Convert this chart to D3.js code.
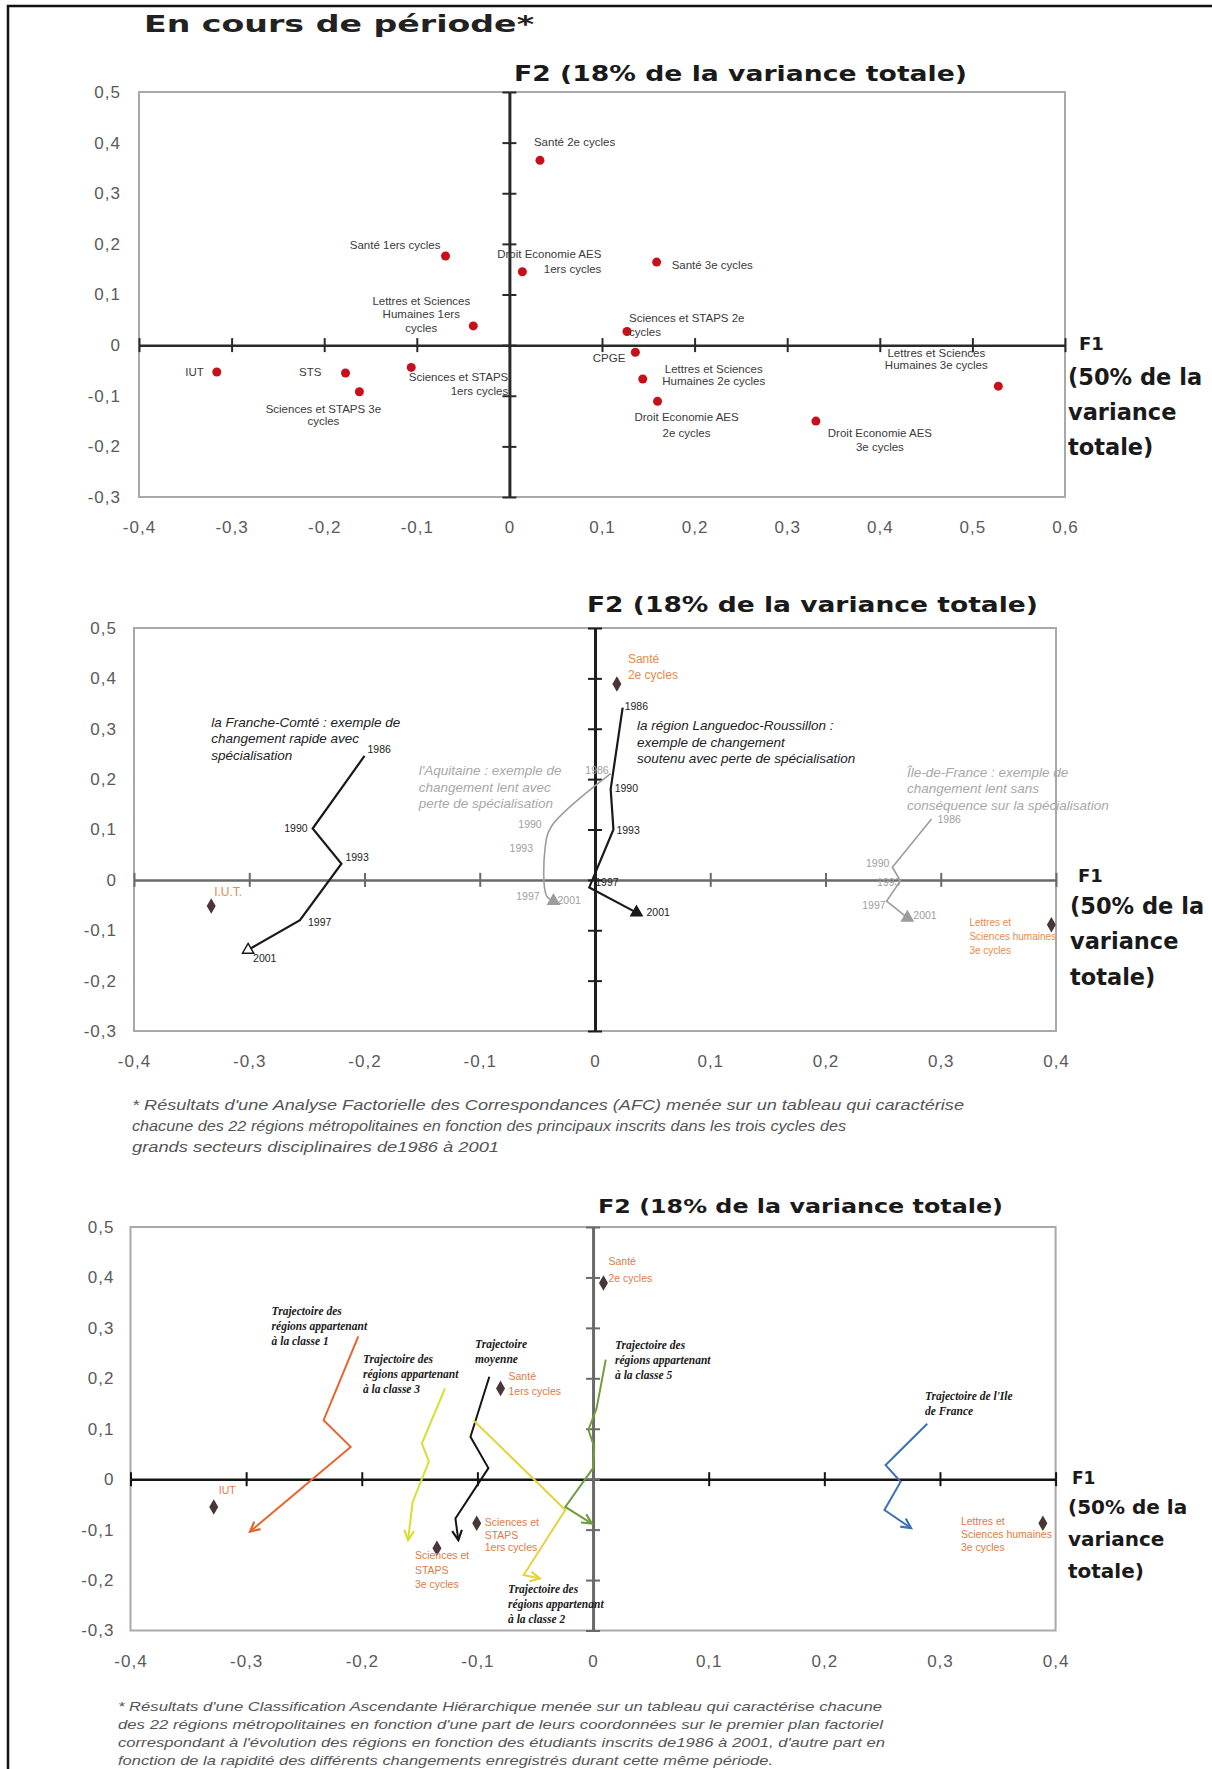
<!DOCTYPE html>
<html>
<head>
<meta charset="utf-8">
<script src="https://cdn.jsdelivr.net/npm/d3@7"></script>
<style>
  body { margin: 0; background: #fff; }
</style>
</head>
<body>
<svg id="fig"></svg>
<script>
// ---------- panel 1 : positions des secteurs (AFC) ----------
const afcNames = [
  "Santé 2e cycles", "Santé 1ers cycles", "Droit Economie AES 1ers cycles",
  "Lettres et Sciences Humaines 1ers cycles", "IUT", "STS",
  "Sciences et STAPS 3e cycles", "Sciences et STAPS 1ers cycles", "Santé 3e cycles",
  "Sciences et STAPS 2e cycles", "CPGE", "Lettres et Sciences Humaines 2e cycles",
  "Droit Economie AES 2e cycles", "Droit Economie AES 3e cycles",
  "Lettres et Sciences Humaines 3e cycles"
];
const afcF1 = [0.033, -0.069, 0.014, -0.039, -0.316, -0.177, -0.162, -0.106, 0.159, 0.127, 0.136, 0.144, 0.160, 0.331, 0.528];
const afcF2 = [0.365, 0.176, 0.145, 0.038, -0.053, -0.055, -0.092, -0.044, 0.164, 0.027, -0.014, -0.067, -0.111, -0.150, -0.081];

// ---------- panel 2 : trajectoires de quatre régions ----------
const years = [1986, 1990, 1993, 1997, 2001];
const regionNames = ["Franche-Comté", "Aquitaine", "Languedoc-Roussillon", "Île-de-France"];
const francheF1 = [-0.200, -0.245, -0.220, -0.256, -0.301];
const francheF2 = [0.246, 0.102, 0.032, -0.080, -0.139];
const aquitaineF1 = [0.0136, -0.0376, -0.0434, -0.042, -0.036];
const aquitaineF2 = [0.211, 0.107, 0.061, -0.032, -0.042];
const languedocF1 = [0.024, 0.0136, 0.016, -0.005, 0.036];
const languedocF2 = [0.342, 0.180, 0.100, -0.015, -0.065];
const idfF1 = [0.292, 0.258, 0.265, 0.253, 0.271];
const idfF2 = [0.121, 0.025, -0.002, -0.042, -0.075];

const refNames2 = ["I.U.T.", "Santé 2e cycles", "Lettres et Sciences humaines 3e cycles"];
const refF1_2 = [-0.333, 0.019, 0.396];
const refF2_2 = [-0.052, 0.389, -0.089];

// ---------- panel 3 : trajectoires des classes (CAH) ----------
const classNames = ["classe 1", "classe 3", "moyenne", "classe 2", "classe 5", "Ile de France"];
const classe1F1 = [-0.203, -0.233, -0.2096, -0.2967];
const classe1F2 = [0.283, 0.117, 0.064, -0.104];
const classe3F1 = [-0.128, -0.148, -0.142, -0.156, -0.160];
const classe3F2 = [0.180, 0.071, 0.035, -0.045, -0.121];
const moyenneF1 = [-0.0897, -0.106, -0.0905, -0.119, -0.1165];
const moyenneF2 = [0.203, 0.084, 0.022, -0.078, -0.121];
const classe2F1 = [-0.1035, -0.024, -0.060, -0.046];
const classe2F2 = [0.117, -0.061, -0.190, -0.197];
const classe5F1 = [0.011, 0.003, -0.004, 0.001, 0.000, -0.024, -0.001];
const classe5F2 = [0.237, 0.140, 0.098, 0.064, 0.022, -0.055, -0.088];
const idfClassF1 = [0.289, 0.253, 0.266, 0.252, 0.275];
const idfClassF2 = [0.110, 0.028, -0.005, -0.061, -0.097];

const refNames3 = ["IUT", "Santé 2e cycles", "Santé 1ers cycles", "Sciences et STAPS 1ers cycles",
  "Sciences et STAPS 3e cycles", "Lettres et Sciences humaines 3e cycles"];
const refF1_3 = [-0.328, 0.009, -0.080, -0.1006, -0.135, 0.389];
const refF2_3 = [-0.055, 0.389, 0.180, -0.0875, -0.137, -0.0875];

const yTicks = [-0.3, -0.2, -0.1, 0, 0.1, 0.2, 0.3, 0.4, 0.5];

// ---------- label placement (pixels, relative to the point) ----------
const afcLabelLayout = [
  { lines: ["Santé 2e cycles"], anchor: "start", dx: -6, dy: -14, lh: 13 },
  { lines: ["Santé 1ers cycles"], anchor: "end", dx: -5, dy: -7, lh: 13 },
  { lines: ["Droit Economie AES", "1ers cycles"], anchor: "end", dx: 79, dy: -14, lh: 15 },
  { lines: ["Lettres et Sciences", "Humaines 1ers", "cycles"], anchor: "middle", dx: -52, dy: -21, lh: 13.5 },
  { lines: ["IUT"], anchor: "end", dx: -13, dy: 4, lh: 13 },
  { lines: ["STS"], anchor: "end", dx: -24, dy: 3, lh: 13 },
  { lines: ["Sciences et STAPS 3e", "cycles"], anchor: "middle", dx: -36, dy: 21, lh: 12.5 },
  { lines: ["Sciences et STAPS", "1ers cycles"], anchor: "end", dx: 97, dy: 14, lh: 13.5 },
  { lines: ["Santé 3e cycles"], anchor: "start", dx: 15, dy: 7, lh: 13 },
  { lines: ["Sciences et STAPS 2e", "cycles"], anchor: "start", dx: 2, dy: -9, lh: 13.5 },
  { lines: ["CPGE"], anchor: "end", dx: -10, dy: 10, lh: 13 },
  { lines: ["Lettres et Sciences", "Humaines 2e cycles"], anchor: "middle", dx: 71, dy: -6, lh: 12 },
  { lines: ["Droit Economie AES", "2e cycles"], anchor: "middle", dx: 29, dy: 20, lh: 15.5 },
  { lines: ["Droit Economie AES", "3e cycles"], anchor: "middle", dx: 64, dy: 16, lh: 13.8 },
  { lines: ["Lettres et Sciences", "Humaines 3e cycles"], anchor: "middle", dx: -62, dy: -29, lh: 12 }
];

const ref2Layout = [
  { lines: ["I.U.T."], dx: 3, dy: -10, lh: 14, size: 12 },
  { lines: ["Santé", "2e cycles"], dx: 11, dy: -21, lh: 16, size: 12 },
  { lines: ["Lettres et", "Sciences humaines", "3e cycles"], dx: -82, dy: 1, lh: 14, size: 10 }
];
const ref3Layout = [
  { lines: ["IUT"], dx: 5, dy: -13, lh: 14 },
  { lines: ["Santé", "2e cycles"], dx: 5, dy: -18, lh: 17 },
  { lines: ["Santé", "1ers cycles"], dx: 8, dy: -8, lh: 15 },
  { lines: ["Sciences et", "STAPS", "1ers cycles"], dx: 8, dy: 3, lh: 12.5 },
  { lines: ["Sciences et", "STAPS", "3e cycles"], dx: -22, dy: 11, lh: 14.5 },
  { lines: ["Lettres et", "Sciences humaines", "3e cycles"], dx: -82, dy: 2, lh: 13 }
];

// year labels: [dx, dy, anchor]
const yearLayout = [
  [[3, -3, "start"], [-5, 4, "end"], [4, -3, "start"], [8, 6, "start"], [5, 12, "start"]],
  [[-2, 0, "end"], [-10, 2, "end"], [-12, 3, "end"], [-7, 4, "end"], [4, 3, "start"]],
  [[2, 2, "start"], [4, 3, "start"], [3, 4, "start"], [6, -1, "start"], [10, 3, "start"]],
  [[6, 4, "start"], [-3, 0, "end"], [0, 5, "end"], [-1, 8, "end"], [6, 1, "start"]]
];

// annotations, anchored in data units
const notes2 = [
  { at: [-0.333, 0.304], color: "#222", lines: ["la Franche-Comté : exemple de", "changement rapide avec", "spécialisation"] },
  { at: [-0.153, 0.208], color: "#a8a8a8", lines: ["l'Aquitaine : exemple de", "changement lent avec", "perte de spécialisation"] },
  { at: [0.0364, 0.2976], color: "#222", lines: ["la région Languedoc-Roussillon :", "exemple de changement", "soutenu avec perte de spécialisation"] },
  { at: [0.2707, 0.205], color: "#a8a8a8", lines: ["Île-de-France : exemple de", "changement lent sans", "conséquence sur la spécialisation"] }
];
const notes3 = [
  { at: [-0.278, 0.326], lines: ["Trajectoire des", "régions appartenant", "à la classe 1"] },
  { at: [-0.199, 0.231], lines: ["Trajectoire des", "régions appartenant", "à la classe 3"] },
  { at: [-0.102, 0.260], lines: ["Trajectoire", "moyenne"] },
  { at: [0.019, 0.258], lines: ["Trajectoire des", "régions appartenant", "à la classe 5"] },
  { at: [-0.0735, -0.226], lines: ["Trajectoire des", "régions appartenant", "à la classe 2"] },
  { at: [0.287, 0.157], lines: ["Trajectoire de l'Ile", "de France"] }
];

const foot1 = [
  "* Résultats d'une Analyse Factorielle des Correspondances (AFC) menée sur un tableau qui caractérise",
  "chacune des 22 régions métropolitaines en fonction des principaux inscrits dans les trois cycles des",
  "grands secteurs disciplinaires de1986 à 2001"
];
const foot2 = [
  "* Résultats d'une Classification Ascendante Hiérarchique menée sur un tableau qui caractérise chacune",
  "des 22 régions métropolitaines en fonction d'une part de leurs coordonnées sur le premier plan factoriel",
  "correspondant à l'évolution des régions en fonction des étudiants inscrits de1986 à 2001, d'autre part en",
  "fonction de la rapidité des différents changements enregistrés durant cette même période."
];

// ---------------------------------------------------------------
const W = 1212, H = 1769;
const SANS = "'Liberation Sans', Arial, sans-serif";
const BOLD = "'DejaVu Sans', sans-serif";
const SERIF = "'Liberation Serif', 'Times New Roman', serif";

const svg = d3.select("#fig").attr("width", W).attr("height", H);
svg.append("rect").attr("width", W).attr("height", H).attr("fill", "#fff");

// outer frame (top and left)
svg.append("path").attr("d", `M8,${H + 5}V6H${W + 5}`)
  .attr("fill", "none").attr("stroke", "#111").attr("stroke-width", 2.5);

svg.append("text").attr("x", 144).attr("y", 32)
  .attr("font-family", BOLD).attr("font-weight", "bold").attr("font-size", 23)
  .attr("fill", "#222").attr("textLength", 390).attr("lengthAdjust", "spacingAndGlyphs")
  .text("En cours de période*");

const fmt = d => d === 0 ? "0" : (d < 0 ? "-" : "") + Math.abs(d).toFixed(1).replace(".", ",");
const zip = (a, b) => a.map((v, i) => [v, b[i]]);

const defs = svg.append("defs");

function multiline(sel, lines, lh) {
  lines.forEach((t, i) => sel.append("tspan").attr("x", sel.attr("x")).attr("dy", i === 0 ? 0 : lh).text(t));
}

function makePanel(cfg) {
  const x = d3.scaleLinear().domain(cfg.xDomain).range([cfg.left, cfg.right]);
  const y = d3.scaleLinear().domain([-0.3, 0.5]).range([cfg.bottom, cfg.top]);
  const g = svg.append("g");
  const xTicks = d3.range(Math.round(cfg.xDomain[0] * 10), Math.round(cfg.xDomain[1] * 10) + 1).map(d => d / 10);

  g.append("rect")
    .attr("x", cfg.left).attr("y", cfg.top)
    .attr("width", cfg.right - cfg.left).attr("height", cfg.bottom - cfg.top)
    .attr("fill", "none").attr("stroke", "#a9a9a9").attr("stroke-width", 2);

  // tick labels
  const styleLabels = a => {
    a.select(".domain").remove();
    a.selectAll("text").attr("font-family", SANS).attr("font-size", 17)
      .attr("letter-spacing", 1).attr("fill", "#5a5a5a");
  };
  g.append("g").attr("transform", `translate(0,${cfg.bottom})`)
    .call(d3.axisBottom(x).tickValues(xTicks).tickFormat(fmt).tickSize(0).tickPadding(24))
    .call(styleLabels);
  g.append("g").attr("transform", `translate(${cfg.left},0)`)
    .call(d3.axisLeft(y).tickValues(yTicks).tickFormat(fmt).tickSize(0).tickPadding(cfg.yPad))
    .call(styleLabels);

  // crossing axes through the origin
  const axisStyle = (a, col, w) => {
    a.selectAll(".domain").attr("stroke", col).attr("stroke-width", w);
    a.selectAll(".tick line").attr("stroke", col).attr("stroke-width", 2);
  };
  g.append("g").attr("transform", `translate(0,${y(0)})`)
    .call(d3.axisBottom(x).tickValues(xTicks).tickFormat("").tickSize(7).tickSizeOuter(0))
    .call(a => axisStyle(a, cfg.xAxisColor, 2.5));
  g.append("g").attr("transform", `translate(0,${y(0)})`)
    .call(d3.axisTop(x).tickValues(xTicks).tickFormat("").tickSize(7).tickSizeOuter(0))
    .call(a => { a.select(".domain").remove(); axisStyle(a, cfg.xAxisColor, 2.5); });
  g.append("g").attr("transform", `translate(${x(0)},0)`)
    .call(d3.axisLeft(y).tickValues(yTicks).tickFormat("").tickSize(7).tickSizeOuter(0))
    .call(a => axisStyle(a, cfg.yAxisColor, 3));
  g.append("g").attr("transform", `translate(${x(0)},0)`)
    .call(d3.axisRight(y).tickValues(yTicks).tickFormat("").tickSize(7).tickSizeOuter(0))
    .call(a => { a.select(".domain").remove(); axisStyle(a, cfg.yAxisColor, 3); });

  // axis titles
  g.append("text").attr("x", cfg.f2.x).attr("y", cfg.f2.y)
    .attr("font-family", BOLD).attr("font-weight", "bold").attr("font-size", cfg.f2.size)
    .attr("fill", "#1a1a1a").attr("textLength", cfg.f2.w).attr("lengthAdjust", "spacingAndGlyphs")
    .text("F2 (18% de la variance totale)");
  g.append("text").attr("x", cfg.f1.x).attr("y", cfg.f1.y)
    .attr("font-family", BOLD).attr("font-weight", "bold").attr("font-size", cfg.f1.size)
    .attr("fill", "#1a1a1a").text("F1");
  ["(50% de la", "variance", "totale)"].forEach((t, i) => {
    g.append("text").attr("x", cfg.f1.lx).attr("y", cfg.f1.ly[i])
      .attr("font-family", BOLD).attr("font-weight", "bold").attr("font-size", cfg.f1.lsize)
      .attr("fill", "#1a1a1a").text(t);
  });
  return { g, x, y };
}

// ================= panel 1 =================
const p1 = makePanel({
  xDomain: [-0.4, 0.6], left: 139, right: 1065, top: 92, bottom: 497, yPad: 18,
  xAxisColor: "#2a2a2a", yAxisColor: "#2a2a2a",
  f2: { x: 514, y: 81, size: 22, w: 453 },
  f1: { x: 1079, y: 350, size: 18, lx: 1068, ly: [385, 420, 455], lsize: 22.5 }
});
const afc = afcNames.map((n, i) => ({ name: n, f1: afcF1[i], f2: afcF2[i], lay: afcLabelLayout[i] }));
p1.g.selectAll(".pt").data(afc).join("circle")
  .attr("cx", d => p1.x(d.f1)).attr("cy", d => p1.y(d.f2)).attr("r", 4.5)
  .attr("fill", "#c8101a");
p1.g.selectAll(".lbl").data(afc).join("text")
  .attr("x", d => p1.x(d.f1) + d.lay.dx).attr("y", d => p1.y(d.f2) + d.lay.dy)
  .attr("text-anchor", d => d.lay.anchor)
  .attr("font-family", SANS).attr("font-size", 11.5).attr("fill", "#3a3a3a")
  .each(function (d) { multiline(d3.select(this), d.lay.lines, d.lay.lh); });

// ================= panel 2 =================
const p2 = makePanel({
  xDomain: [-0.4, 0.4], left: 134, right: 1056, top: 628, bottom: 1031, yPad: 17,
  xAxisColor: "#6a6a6a", yAxisColor: "#1e1e1e",
  f2: { x: 587, y: 612, size: 22, w: 451 },
  f1: { x: 1078, y: 882, size: 18, lx: 1070, ly: [914, 949, 985], lsize: 22.5 }
});
const regions = [
  { f1: francheF1, f2: francheF2, color: "#1a1a1a", w: 2.2, curve: d3.curveLinear, open: true },
  { f1: aquitaineF1, f2: aquitaineF2, color: "#9c9c9c", w: 1.6, curve: d3.curveCatmullRom.alpha(0.5), open: false },
  { f1: languedocF1, f2: languedocF2, color: "#1a1a1a", w: 2.2, curve: d3.curveLinear, open: false },
  { f1: idfF1, f2: idfF2, color: "#9c9c9c", w: 1.6, curve: d3.curveLinear, open: false }
];
regions.forEach((r, ri) => {
  const pts = zip(r.f1, r.f2);
  p2.g.append("path").datum(pts)
    .attr("d", d3.line().x(d => p2.x(d[0])).y(d => p2.y(d[1])).curve(r.curve))
    .attr("fill", "none").attr("stroke", r.color).attr("stroke-width", r.w);
  const last = pts[pts.length - 1];
  p2.g.append("path")
    .attr("d", d3.symbol(d3.symbolTriangle).size(55)())
    .attr("transform", `translate(${p2.x(last[0])},${p2.y(last[1])})`)
    .attr("fill", r.open ? "#fff" : r.color).attr("stroke", r.color).attr("stroke-width", 1.5);
  p2.g.selectAll(null).data(years).join("text")
    .attr("x", (d, i) => p2.x(pts[i][0]) + yearLayout[ri][i][0])
    .attr("y", (d, i) => p2.y(pts[i][1]) + yearLayout[ri][i][1])
    .attr("text-anchor", (d, i) => yearLayout[ri][i][2])
    .attr("font-family", SANS).attr("font-size", 10.5).attr("fill", r.color === "#1a1a1a" ? "#222" : "#a0a0a0")
    .text(d => d);
});
notes2.forEach(n => {
  const t = p2.g.append("text").attr("x", p2.x(n.at[0])).attr("y", p2.y(n.at[1]))
    .attr("font-family", SANS).attr("font-style", "italic").attr("font-size", 13.5).attr("fill", n.color);
  multiline(t, n.lines, 16.7);
});
const ref2 = refNames2.map((n, i) => ({ name: n, f1: refF1_2[i], f2: refF2_2[i], lay: ref2Layout[i] }));
p2.g.selectAll(".ref").data(ref2).join("path")
  .attr("d", d3.symbol(d3.symbolDiamond).size(70)())
  .attr("transform", d => `translate(${p2.x(d.f1)},${p2.y(d.f2)})`)
  .attr("fill", "#4a3636");
p2.g.selectAll(".reflbl").data(ref2).join("text")
  .attr("x", d => p2.x(d.f1) + d.lay.dx).attr("y", d => p2.y(d.f2) + d.lay.dy)
  .attr("font-family", SANS).attr("font-size", d => d.lay.size).attr("fill", "#e58a4e")
  .each(function (d) { multiline(d3.select(this), d.lay.lines, d.lay.lh); });

foot1.forEach((t, i) => {
  svg.append("text").attr("x", 132).attr("y", 1110 + i * 21)
    .attr("font-family", SANS).attr("font-style", "italic").attr("font-size", 14).attr("fill", "#555")
    .attr("textLength", [832, 714, 367][i]).attr("lengthAdjust", "spacingAndGlyphs").text(t);
});

// ================= panel 3 =================
const p3 = makePanel({
  xDomain: [-0.4, 0.4], left: 130.5, right: 1055.6, top: 1227, bottom: 1630.5, yPad: 16,
  xAxisColor: "#141414", yAxisColor: "#6a6a6a",
  f2: { x: 598, y: 1213, size: 20, w: 405 },
  f1: { x: 1072, y: 1484, size: 17, lx: 1068, ly: [1514, 1546, 1578], lsize: 20 }
});
const classes = [
  { f1: classe1F1, f2: classe1F2, color: "#e8642c" },
  { f1: classe3F1, f2: classe3F2, color: "#d6e030" },
  { f1: moyenneF1, f2: moyenneF2, color: "#151515" },
  { f1: classe2F1, f2: classe2F2, color: "#e3d33c" },
  { f1: classe5F1, f2: classe5F2, color: "#6f9d3d" },
  { f1: idfClassF1, f2: idfClassF2, color: "#3d70b3" }
];
classes.forEach((c, i) => {
  defs.append("marker").attr("id", "arr" + i)
    .attr("viewBox", "0 0 12 12").attr("refX", 10).attr("refY", 6)
    .attr("markerWidth", 13).attr("markerHeight", 13)
    .attr("markerUnits", "userSpaceOnUse").attr("orient", "auto")
    .append("path").attr("d", "M1,1.5L10,6L1,10.5")
    .attr("fill", "none").attr("stroke", c.color).attr("stroke-width", 2);
  p3.g.append("path").datum(zip(c.f1, c.f2))
    .attr("d", d3.line().x(d => p3.x(d[0])).y(d => p3.y(d[1])))
    .attr("fill", "none").attr("stroke", c.color).attr("stroke-width", 2)
    .attr("stroke-linejoin", "miter").attr("marker-end", `url(#arr${i})`);
});
notes3.forEach(n => {
  const t = p3.g.append("text").attr("x", p3.x(n.at[0])).attr("y", p3.y(n.at[1]))
    .attr("font-family", SERIF).attr("font-style", "italic").attr("font-weight", "bold")
    .attr("font-size", 11.5).attr("fill", "#1a1a1a");
  multiline(t, n.lines, 15);
});
const ref3 = refNames3.map((n, i) => ({ name: n, f1: refF1_3[i], f2: refF2_3[i], lay: ref3Layout[i] }));
p3.g.selectAll(".ref").data(ref3).join("path")
  .attr("d", d3.symbol(d3.symbolDiamond).size(70)())
  .attr("transform", d => `translate(${p3.x(d.f1)},${p3.y(d.f2)})`)
  .attr("fill", "#4a3636");
p3.g.selectAll(".reflbl").data(ref3).join("text")
  .attr("x", d => p3.x(d.f1) + d.lay.dx).attr("y", d => p3.y(d.f2) + d.lay.dy)
  .attr("font-family", SANS).attr("font-size", 10.5).attr("fill", "#e07a45")
  .each(function (d) { multiline(d3.select(this), d.lay.lines, d.lay.lh); });

foot2.forEach((t, i) => {
  svg.append("text").attr("x", 118).attr("y", 1711 + i * 18)
    .attr("font-family", SANS).attr("font-style", "italic").attr("font-size", 13).attr("fill", "#555")
    .attr("textLength", [764, 765, 767, 655][i]).attr("lengthAdjust", "spacingAndGlyphs").text(t);
});
</script>
</body>
</html>
